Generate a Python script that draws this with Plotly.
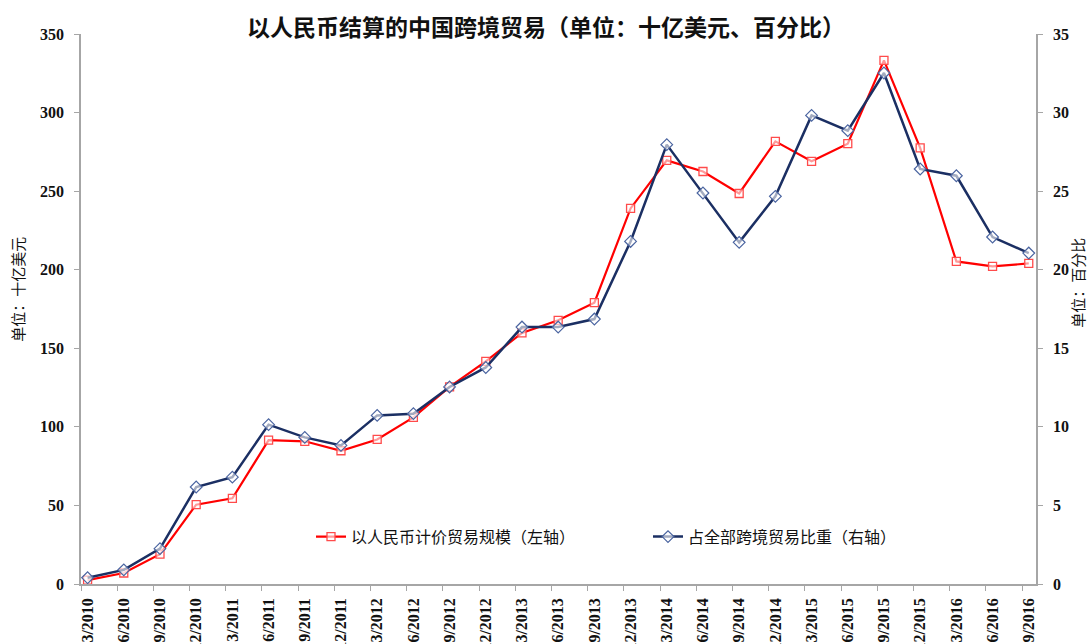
import plotly.graph_objects as go

categories = ["3/2010", "6/2010", "9/2010", "12/2010", "3/2011", "6/2011", "9/2011", "12/2011",
              "3/2012", "6/2012", "9/2012", "12/2012", "3/2013", "6/2013", "9/2013", "12/2013",
              "3/2014", "6/2014", "9/2014", "12/2014", "3/2015", "6/2015", "9/2015", "12/2015",
              "3/2016", "6/2016", "9/2016"]

rmb_trade = [2.5, 7, 19, 50.5, 54.5, 91.5, 90.8, 84.8, 92, 106, 125.5, 141.7, 159.8, 167.8, 179,
             239, 269.6, 262.5, 248.5, 281.7, 269, 280.2, 333.2, 277.5, 205.3, 202.1, 204]

share_pct = [0.4, 0.9, 2.25, 6.17, 6.8, 10.14, 9.33, 8.82, 10.73, 10.84, 12.54, 13.78, 16.35, 16.35,
             16.86, 21.8, 27.96, 24.88, 21.74, 24.67, 29.82, 28.85, 32.52, 26.41, 25.98, 22.08, 21.06]

left_ticks = [0, 50, 100, 150, 200, 250, 300, 350]
right_ticks = [0, 5, 10, 15, 20, 25, 30, 35]

name_rmb = "以人民币计价贸易规模（左轴）"
name_share = "占全部跨境贸易比重（右轴）"
title_text = "以人民币结算的中国跨境贸易（单位：十亿美元、百分比）"
left_title = "单位：十亿美元"
right_title = "单位：百分比"

RED = "#ff0000"
NAVY = "#1b2f63"
AXIS = "#a6a6a6"
SERIF = "Liberation Serif, Times New Roman, serif"
CJK = "Noto Sans CJK SC, sans-serif"

L, R, T, B = 81, 53, 34, 60
W, H = 1089, 644
PW, PH = W - L - R, H - T - B

n = len(categories)
xr = [-0.182, n - 1 + 0.2]

fig = go.Figure()
fig.add_trace(go.Scatter(
    x=categories, y=rmb_trade, name=name_rmb, mode="lines+markers",
    line=dict(color=RED, width=2.2),
    marker=dict(symbol="square", size=8, color="rgba(255,255,255,0.6)",
                line=dict(color="#ff4b4b", width=1.3)),
    yaxis="y"))
fig.add_trace(go.Scatter(
    x=categories, y=share_pct, name=name_share, mode="lines+markers",
    line=dict(color=NAVY, width=2.5),
    marker=dict(symbol="diamond", size=9, color="rgba(255,255,255,0.6)",
                line=dict(color="#4a64a0", width=1.2)),
    yaxis="y2"))
# empty trace so the tick-mark overlay axis is drawn
fig.add_trace(go.Scatter(x=[], y=[], xaxis="x2", yaxis="y", showlegend=False, hoverinfo="skip"))

fig.update_layout(
    width=W, height=H,
    margin=dict(l=L, r=R, t=T, b=B, autoexpand=False),
    paper_bgcolor="white", plot_bgcolor="white",
    title=dict(text=title_text, x=546 / W, xanchor="center", y=1 - 28 / H, yanchor="middle",
               font=dict(family=CJK, size=23, color="#111111", weight="bold")),
    xaxis=dict(type="category", categoryorder="array", categoryarray=categories,
               range=xr, showgrid=False, zeroline=False,
               showline=True, linecolor=AXIS, linewidth=1.5,
               ticks="", tickangle=-90, ticklabelstandoff=6, automargin=False,
               tickfont=dict(family=SERIF, size=16, color="#111111", weight="bold")),
    xaxis2=dict(overlaying="x", anchor="y", range=xr, showgrid=False, zeroline=False,
                showline=False, showticklabels=False,
                tickmode="array", tickvals=[i - 0.182 for i in range(n)],
                ticks="outside", ticklen=6, tickcolor=AXIS, tickwidth=1.3),
    yaxis=dict(range=[0, 350], tickvals=left_ticks, showgrid=False, zeroline=False,
               showline=True, linecolor=AXIS, linewidth=1.5,
               ticks="outside", ticklen=5, tickcolor=AXIS, tickwidth=1.3,
               ticklabelstandoff=7, automargin=False,
               tickfont=dict(family=SERIF, size=16, color="#111111", weight="bold")),
    yaxis2=dict(range=[0, 35], tickvals=right_ticks, overlaying="y", side="right",
                showgrid=False, zeroline=False,
                showline=True, linecolor=AXIS, linewidth=1.5,
                ticks="outside", ticklen=5, tickcolor=AXIS, tickwidth=1.3,
                ticklabelstandoff=7, automargin=False,
                tickfont=dict(family=SERIF, size=16, color="#111111", weight="bold")),
    legend=dict(orientation="h", x=(311 - L) / PW, xanchor="left",
                y=(584.3 - 537) / PH, yanchor="middle",
                bgcolor="rgba(0,0,0,0)", entrywidth=292, itemwidth=30,
                font=dict(family=CJK, size=16, color="#111111")),
    showlegend=True,
)

fig.add_annotation(text=left_title, x=(18 - L) / PW, y=(584.3 - 290) / PH,
                   xref="paper", yref="paper",
                   showarrow=False, textangle=-90, xanchor="center", yanchor="middle",
                   font=dict(family=CJK, size=15, color="#111111"))
fig.add_annotation(text=right_title, x=(1078 - L) / PW, y=(584.3 - 283) / PH,
                   xref="paper", yref="paper",
                   showarrow=False, textangle=-90, xanchor="center", yanchor="middle",
                   font=dict(family=CJK, size=15, color="#111111"))

fig.write_html("out.html", config={"displayModeBar": False},
               post_script="document.body.style.margin='0';")
